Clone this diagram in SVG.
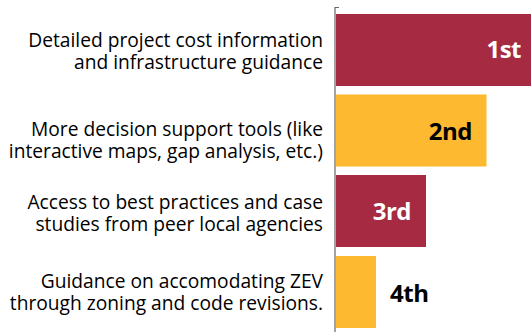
<svg xmlns="http://www.w3.org/2000/svg" width="531" height="332" viewBox="0 0 531 332">
<style>
.lbl{font-family:"Open Sans","Noto Sans","Liberation Sans",sans-serif;font-size:19.2px;fill:#000;text-anchor:end}
.rank{font-family:"Open Sans","Noto Sans","Liberation Sans",sans-serif;font-size:24px;font-weight:bold;letter-spacing:-0.5px}
.red{fill:#A52A42}
.yel{fill:#FDB92F}
</style>
<rect width="531" height="332" fill="#fff"/>
<g id="axis">
<path d="M339 7.5H335V332" fill="none" stroke="#666" stroke-width="1.2"/>
</g>
<g id="bar1">
<rect class="red" x="336" y="14" width="195" height="72"/>
<text class="rank" x="521" y="58" fill="#fff" text-anchor="end">1st</text>
<text class="lbl"><tspan x="323" y="47">Detailed project cost information</tspan><tspan x="323" y="68.5">and infrastructure guidance</tspan></text>
</g>
<g id="bar2">
<rect class="yel" x="336" y="94.5" width="150.5" height="72"/>
<text class="rank" x="472" y="140" fill="#000" text-anchor="end">2nd</text>
<text class="lbl"><tspan x="323" y="136">More decision support tools (like</tspan><tspan x="323" y="157.5">interactive maps, gap analysis, etc.)</tspan></text>
</g>
<g id="bar3">
<rect class="red" x="336" y="175" width="90" height="72"/>
<text class="rank" x="411" y="220" fill="#fff" text-anchor="end">3rd</text>
<text class="lbl"><tspan x="323" y="208.5">Access to best practices and case</tspan><tspan x="323" y="230.5">studies from peer local agencies</tspan></text>
</g>
<g id="bar4">
<rect class="yel" x="336" y="256" width="40" height="72"/>
<text class="rank" x="390" y="302" fill="#000">4th</text>
<text class="lbl"><tspan x="323" y="288">Guidance on accomodating ZEV</tspan><tspan x="323" y="310">through zoning and code revisions.</tspan></text>
</g>
</svg>
